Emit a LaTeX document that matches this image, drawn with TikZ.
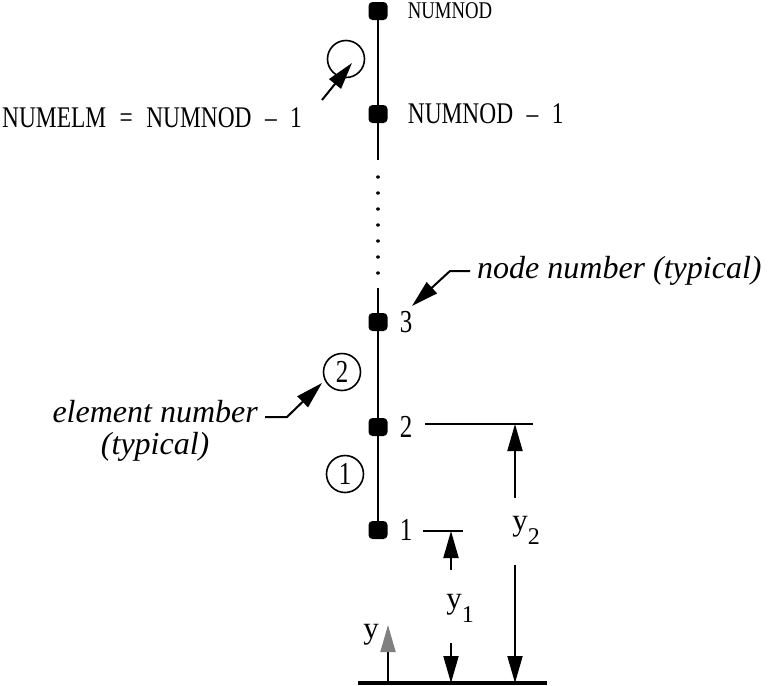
\documentclass[tikz,border=0pt]{standalone}
\usepackage{fontspec}
\setmainfont{Liberation Serif}
\newfontfamily\lblfont{Liberation Serif}[FakeStretch=0.78,WordSpace=2.3,Ligatures=TeX]
\usetikzlibrary{arrows.meta,positioning}
\newcommand{\lowidx}[1]{\raisebox{-0.45em}{\fontsize{24}{24}\selectfont #1}}

\begin{document}
\begin{tikzpicture}[x=1pt,y=-1pt,
  nodept/.style={rectangle, rounded corners=4pt, fill=black, minimum width=19pt, minimum height=18pt, inner sep=0pt},
  elem/.style={circle, draw, line width=1.6pt, minimum size=37pt, inner sep=0pt, font=\lblfont\fontsize{32}{32}\selectfont},
  lbl/.style={inner sep=1pt, font=\lblfont\fontsize{30}{32}\selectfont},
  num/.style={inner sep=1pt, font=\lblfont\fontsize{32}{32}\selectfont},
  ylbl/.style={inner sep=1pt, font=\fontsize{31}{32}\selectfont},
  itl/.style={inner sep=1pt, font=\fontsize{32}{32}\selectfont\itshape},
  big/.style={-{Triangle[length=27pt,width=15pt]}},
  dim/.style={line width=2pt}]

  \useasboundingbox (0,0) rectangle (772,686);

  % nodes along the bar
  \node[nodept] (n5) at (378,11) {};
  \node[nodept] (n4) at (378,114) {};
  \node[nodept] (n3) at (378,322) {};
  \node[nodept] (n2) at (378,427) {};
  \node[nodept] (n1) at (378,530) {};

  \coordinate (brk1) at (378,160);
  \coordinate (dot1) at (378,177);
  \coordinate (dot2) at (378,274);
  \coordinate (brk2) at (378,288);

  \draw[line width=2.8pt] (n5) -- (n4) -- (brk1);
  \draw[line width=3.4pt, line cap=round, dash pattern=on 0.01pt off 15.99pt] (dot1) -- (dot2);
  \draw[line width=2.8pt] (brk2) -- (n3) -- (n2) -- (n1);

  \node[lbl, right=19pt of n5, font=\lblfont\fontsize{24}{26}\selectfont] (t5) {NUMNOD};
  \node[lbl, right=19pt of n4] (t4) {NUMNOD – 1};
  \node[num, right=11pt of n3] (t3) {3};
  \node[num, right=11pt of n2] (t2) {2};
  \node[num, right=11pt of n1] (t1) {1};

  % element numbers
  \node[elem] (etop) at (346,59) {};
  \node[elem] (e2) at (342,372) {2};
  \node[elem] (e1) at (345,474) {1};

  \node[lbl, anchor=west] (numelm) at (1,118) {NUMELM = NUMNOD – 1};
  \coordinate (lt1) at (322,100);
  \coordinate (lt2) at (352,63);
  \draw[dim, big] (lt1) -- (lt2);

  \node[itl, anchor=west] (nodenum) at (476,271) {node number (typical)};
  \coordinate (tip3) at (412,306);
  \draw[dim, big] ([xshift=-6pt]nodenum.west) -- ++(-20,0) -- (tip3);

  \node[itl, align=center, anchor=east] (elemtxt) at (259,431) {element number\\(typical)};
  \coordinate (el1) at (265,417);
  \coordinate (el2) at (287,417);
  \coordinate (tip2) at (322,383);
  \draw[dim, big] (el1) -- (el2) -- (tip2);

  % dimensions
  \coordinate (h2a) at (425,424);
  \coordinate (h2b) at (533,424);
  \coordinate (h1a) at (423,531);
  \coordinate (h1b) at (463,531);
  \coordinate (g1) at (358,683);
  \coordinate (g2) at (547,683);
  \draw[dim] (h2a) -- (h2b);
  \draw[dim] (h1a) -- (h1b);
  \draw[line width=4pt] (g1) -- (g2);

  \coordinate (y2t) at (515,424);
  \coordinate (y2u) at (515,498);
  \coordinate (y2d) at (515,565);
  \coordinate (y2b) at (515,683);
  \node[ylbl] (y2lab) at (526,530) {y\lowidx{2}};
  \draw[dim, big] (y2u) -- (y2t);
  \draw[dim, big] (y2d) -- (y2b);

  \coordinate (y1t) at (451,531);
  \coordinate (y1u) at (451,570);
  \coordinate (y1d) at (451,643);
  \coordinate (y1b) at (451,683);
  \node[ylbl] (y1lab) at (460,608) {y\lowidx{1}};
  \draw[dim, big] (y1u) -- (y1t);
  \draw[dim, big] (y1d) -- (y1b);

  % y axis
  \coordinate (ya0) at (388,683);
  \coordinate (ya1) at (388,625);
  \draw[dim, -{Triangle[length=27pt,width=15pt,color=gray]}] (ya0) -- (ya1);
  \node[ylbl] (ylab) at (371,635) {y};

\end{tikzpicture}
\end{document}
